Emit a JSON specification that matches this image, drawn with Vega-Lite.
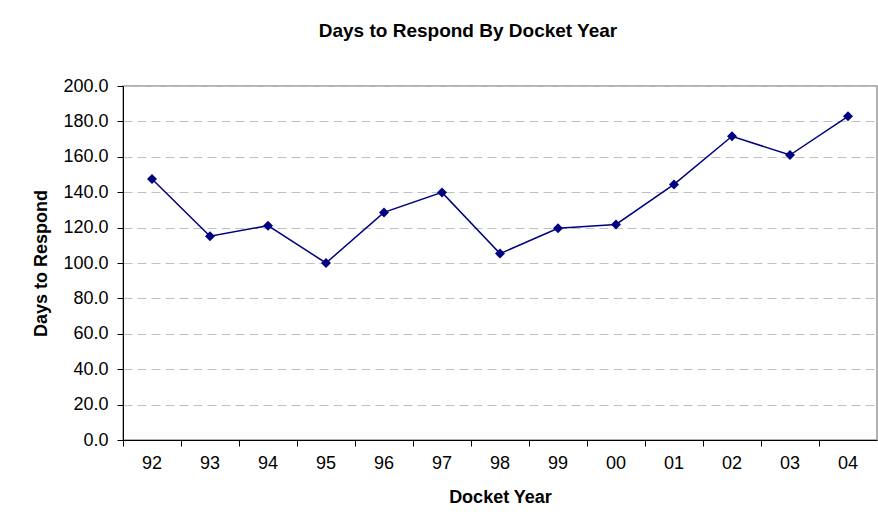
{
  "$schema": "https://vega.github.io/schema/vega-lite/v6.json",
  "width": 754,
  "height": 354,
  "autosize": {"type": "none"},
  "padding": {"left": 123, "top": 86, "right": 1, "bottom": 85},
  "background": "white",
  "config": {
    "font": "Liberation Sans",
    "view": {"stroke": "#999999", "strokeWidth": 1.5}
  },
  "title": {
    "text": "Days to Respond By Docket Year",
    "fontSize": 19,
    "fontWeight": "bold",
    "font": "Liberation Sans",
    "color": "black",
    "offset": 36,
    "dx": -32
  },
  "data": {
    "values": [
      {"year": "92", "days": 147.5},
      {"year": "93", "days": 115.1},
      {"year": "94", "days": 121.1},
      {"year": "95", "days": 100.0},
      {"year": "96", "days": 128.6},
      {"year": "97", "days": 139.9},
      {"year": "98", "days": 105.3},
      {"year": "99", "days": 119.6},
      {"year": "00", "days": 121.8},
      {"year": "01", "days": 144.4},
      {"year": "02", "days": 171.6},
      {"year": "03", "days": 161.0},
      {"year": "04", "days": 182.9}
    ]
  },
  "encoding": {
    "x": {
      "field": "year",
      "type": "ordinal",
      "sort": null,
      "scale": {"type": "band", "paddingInner": 0, "paddingOuter": 0},
      "axis": {
        "title": "Docket Year",
        "titleFontSize": 18,
        "titleFontWeight": "bold",
        "titleColor": "black",
        "titlePadding": 16,
        "labelAngle": 0,
        "labelFontSize": 18,
        "labelColor": "black",
        "labelPadding": 8,
        "tickSize": 6,
        "tickColor": "black",
        "domainColor": "black",
        "bandPosition": 0,
        "grid": false
      }
    },
    "y": {
      "field": "days",
      "type": "quantitative",
      "scale": {"domain": [0, 200]},
      "axis": {
        "title": "Days to Respond",
        "titleFontSize": 18,
        "titleFontWeight": "bold",
        "titleColor": "black",
        "titleX": -82,
        "titleBaseline": "middle",
        "values": [0, 20, 40, 60, 80, 100, 120, 140, 160, 180, 200],
        "format": ".1f",
        "labelFontSize": 18,
        "labelColor": "black",
        "labelPadding": 9,
        "tickSize": 6,
        "tickColor": "black",
        "domainColor": "black",
        "gridColor": "#c0c0c0",
        "gridDash": [9, 5],
        "gridWidth": 1
      }
    }
  },
  "layer": [
    {"mark": {"type": "line", "color": "#000080", "strokeWidth": 1.5}},
    {"mark": {"type": "point", "shape": "diamond", "filled": true, "color": "#000080", "size": 100, "opacity": 1}}
  ]
}
